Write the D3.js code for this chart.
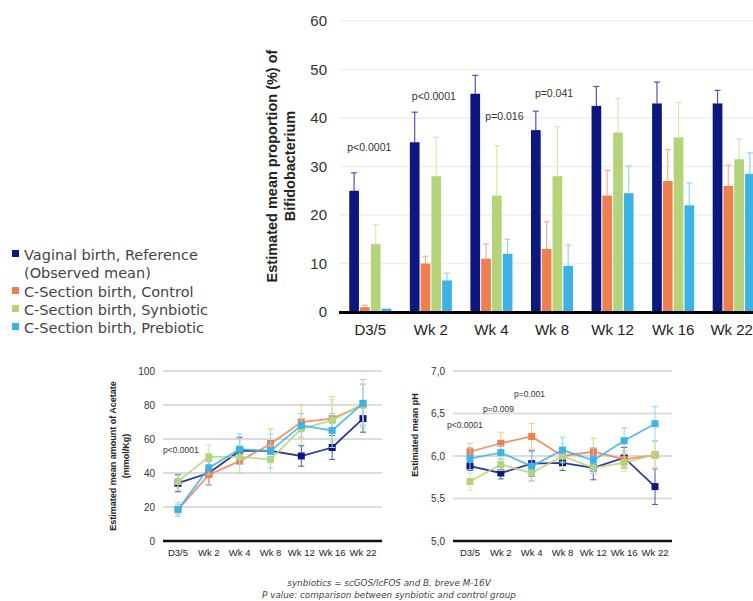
<!DOCTYPE html>
<html>
<head>
<meta charset="utf-8">
<script src="https://cdn.jsdelivr.net/npm/d3@7"></script>
<style>
  body { margin: 0; background: #fff; }
  svg { display: block; }
</style>
</head>
<body>
<div id="chart"></div>
<script>
// categories and series
var timepoints = ["D3/5", "Wk 2", "Wk 4", "Wk 8", "Wk 12", "Wk 16", "Wk 22"];
var groups = ["Vaginal birth, Reference", "C-Section birth, Control", "C-Section birth, Synbiotic", "C-Section birth, Prebiotic"];
var legendLabels = [["Vaginal birth, Reference", "(Observed mean)"], ["C-Section birth, Control"], ["C-Section birth, Synbiotic"], ["C-Section birth, Prebiotic"]];

// Bifidobacterium proportion (%) and upper error
var bifVaginal   = [25, 35, 45, 37.5, 42.5, 43, 43];
var bifControl   = [1, 10, 11, 13, 24, 27, 26];
var bifSynbiotic = [14, 28, 24, 28, 37, 36, 31.5];
var bifPrebiotic = [0.7, 6.5, 12, 9.5, 24.5, 22, 28.5];
var bifErrVaginal   = [3.7, 6.2, 3.8, 3.9, 4, 4.4, 2.7];
var bifErrControl   = [0.4, 1.5, 3, 5.6, 5.2, 6.5, 4.3];
var bifErrSynbiotic = [4, 8, 10.3, 10.2, 7, 7.2, 4.2];
var bifErrPrebiotic = [0, 1.5, 3, 4.3, 5.6, 4.6, 4.3];
var bifTicks = [0, 10, 20, 30, 40, 50, 60];
var bifPLabels = [["D3/5", "p<0.0001"], ["Wk 2", "p<0.0001"], ["Wk 4", "p=0.016"], ["Wk 8", "p=0.041"]];

// Acetate (mmol/Kg)
var aceVaginal   = [34, 40, 53, 53, 50, 55, 72];
var aceControl   = [18.5, 39, 47, 57, 70, 72, 80];
var aceSynbiotic = [35, 49.5, 49.5, 48, 66, 71, 80.5];
var acePrebiotic = [18.5, 43, 54, 53, 68, 65, 81];
var aceErrVaginal   = [5, 7, 8, 6, 6, 7, 8];
var aceErrControl   = [3, 6, 7, 9, 10, 13, 12];
var aceErrSynbiotic = [5, 7, 10, 8, 9, 12, 12];
var aceErrPrebiotic = [4, 4, 9, 10, 7, 10, 14];
var aceTicks = [0, 20, 40, 60, 80, 100];

// pH
var phVaginal   = [5.88, 5.80, 5.91, 5.92, 5.86, 5.98, 5.64];
var phControl   = [6.05, 6.15, 6.23, 6.00, 6.05, 5.96, 6.01];
var phSynbiotic = [5.70, 5.90, 5.80, 6.00, 5.86, 5.92, 6.02];
var phPrebiotic = [5.97, 6.04, 5.88, 6.07, 5.95, 6.18, 6.38];
var phErrVaginal   = [0.05, 0.07, 0.15, 0.09, 0.14, 0.12, 0.21];
var phErrControl   = [0.1, 0.13, 0.15, 0.07, 0.16, 0.1, 0.16];
var phErrSynbiotic = [0.1, 0.07, 0.1, 0.15, 0.07, 0.1, 0.15];
var phErrPrebiotic = [0.13, 0.08, 0.17, 0.15, 0.15, 0.15, 0.2];
var phTicks = [5, 5.5, 6, 6.5, 7];
var phPLabels = ["p<0.0001", "p=0.009", "p=0.001"];

var footnotes = ["synbiotics = scGOS/lcFOS and B. breve M-16V", "P value: comparison between synbiotic and control group"];

var colors = ["#0c1780", "#f07f4f", "#b5d47a", "#3cb3e4"];
var errColors = ["#4d57b3", "#f6b08f", "#d8e8b0", "#93d5f1"];
var lineErrColors = ["#4d57b3", "#f7c27a", "#d3e6a6", "#93d5f1"];

var svg = d3.select("#chart").append("svg")
    .attr("width", 753)
    .attr("height", 601);

var sans = "Liberation Sans, Arial, sans-serif";
var legendFont = "DejaVu Sans, sans-serif";

// ---------- Bar chart ----------
function barChart(){
    var bifData = [bifVaginal, bifControl, bifSynbiotic, bifPrebiotic];
    var bifErr = [bifErrVaginal, bifErrControl, bifErrSynbiotic, bifErrPrebiotic];

    var x0 = d3.scaleBand().domain(timepoints).range([340, 764])
        .paddingInner(0.27).paddingOuter(0.135);
    var x1 = d3.scaleBand().domain(groups).range([0, x0.bandwidth()]).padding(0.1);
    var y = d3.scaleLinear().domain([0, 60]).range([312, 21]);

    var g = svg.append("g");

    // grid
    g.selectAll(".grid").data(bifTicks.filter(function(d){ return d > 0; }))
        .enter().append("line")
        .attr("x1", 339).attr("x2", 753)
        .attr("y1", function(d){ return y(d); })
        .attr("y2", function(d){ return y(d); })
        .attr("stroke", "#efefef").attr("stroke-width", 1.5);

    // y ticks
    g.selectAll(".ytick").data(bifTicks).enter().append("text")
        .attr("x", 327).attr("y", function(d){ return y(d) + 5; })
        .attr("text-anchor", "end")
        .attr("font-family", sans).attr("font-size", "15px").attr("fill", "#333")
        .text(function(d){ return d; });

    // bars + error bars
    groups.forEach(function(s, si){
        var gg = g.append("g");
        timepoints.forEach(function(t, ti){
            var v = bifData[si][ti], e = bifErr[si][ti];
            var cx = x0(t) + x1(s) + x1.bandwidth() / 2;
            if (e > 0) {
                gg.append("line").attr("x1", cx).attr("x2", cx)
                    .attr("y1", y(v)).attr("y2", y(v + e))
                    .attr("stroke", errColors[si]).attr("stroke-width", 1.2);
                gg.append("line").attr("x1", cx - 3).attr("x2", cx + 3)
                    .attr("y1", y(v + e)).attr("y2", y(v + e))
                    .attr("stroke", errColors[si]).attr("stroke-width", 1.2);
            }
            gg.append("rect")
                .attr("x", x0(t) + x1(s))
                .attr("y", y(v))
                .attr("width", x1.bandwidth())
                .attr("height", y(0) - y(v))
                .attr("fill", colors[si]);
        });
    });

    // baseline
    g.append("line").attr("x1", 339).attr("x2", 753)
        .attr("y1", y(0) + 0.5).attr("y2", y(0) + 0.5)
        .attr("stroke", "#000").attr("stroke-width", 3);

    // x labels (last one sits against the right edge, as in the source)
    g.selectAll(".xlab").data(timepoints).enter().append("text")
        .attr("x", function(d, i){ return x0(d) + x0.bandwidth() / 2 - (i === timepoints.length - 1 ? 2 : 0); })
        .attr("y", 335)
        .attr("text-anchor", "middle")
        .attr("font-family", sans).attr("font-size", "15px").attr("fill", "#222")
        .text(function(d){ return d; });

    // p values (offset from group centre, height in data units)
    var pPos = { "D3/5": [-1, 33.2], "Wk 2": [3, 43.8], "Wk 4": [13, 39.6], "Wk 8": [2, 44.3] };
    bifPLabels.forEach(function(p){
        g.append("text")
            .attr("x", x0(p[0]) + x0.bandwidth() / 2 + pPos[p[0]][0])
            .attr("y", y(pPos[p[0]][1]))
            .attr("text-anchor", "middle")
            .attr("font-family", sans).attr("font-size", "10.5px").attr("fill", "#333")
            .text(p[1]);
    });

    // y title
    var yt = g.append("text")
        .attr("transform", "translate(277,166) rotate(-90)")
        .attr("text-anchor", "middle")
        .attr("font-family", sans).attr("font-size", "14.5px").attr("font-weight", "bold").attr("fill", "#222");
    yt.append("tspan").attr("x", 0).attr("dy", 0).text("Estimated mean proportion (%) of");
    yt.append("tspan").attr("x", 0).attr("dy", 17.5).text("Bifidobacterium");
}

// ---------- Legend ----------
function legend(){
    var lg = svg.append("g").attr("transform", "translate(12,0)");
    var rowY = [254, 291, 309, 327];
    legendLabels.forEach(function(lines, i){
        lg.append("rect")
            .attr("x", 0).attr("y", rowY[i] - 4)
            .attr("width", 7).attr("height", 7)
            .attr("fill", colors[i]);
        lines.forEach(function(l, li){
            lg.append("text")
                .attr("x", 12).attr("y", rowY[i] + 5.5 + li * 18)
                .attr("font-family", legendFont).attr("font-size", "14.5px").attr("fill", "#444")
                .text(l);
        });
    });
}

// ---------- Line charts ----------
function lineChart(opts){
    var x = d3.scalePoint().domain(timepoints).range(opts.xRange);
    var y = d3.scaleLinear().domain(opts.domain).range([541, 371]);
    var g = svg.append("g");

    g.selectAll(".grid").data(opts.ticks.slice(1)).enter().append("line")
        .attr("x1", opts.gridX[0]).attr("x2", opts.gridX[1])
        .attr("y1", function(d){ return y(d); })
        .attr("y2", function(d){ return y(d); })
        .attr("stroke", "#dcdcdc").attr("stroke-width", 1.8);

    g.selectAll(".ytick").data(opts.ticks).enter().append("text")
        .attr("x", opts.gridX[0] - 8).attr("y", function(d){ return y(d) + 3.5; })
        .attr("text-anchor", "end")
        .attr("font-family", sans).attr("font-size", "10px").attr("fill", "#333")
        .text(opts.format);

    g.append("line").attr("x1", opts.gridX[0]).attr("x2", opts.gridX[1])
        .attr("y1", y(opts.domain[0])).attr("y2", y(opts.domain[0]))
        .attr("stroke", "#111").attr("stroke-width", 2.5);

    g.selectAll(".xlab").data(timepoints).enter().append("text")
        .attr("x", function(d){ return x(d); })
        .attr("y", 556)
        .attr("text-anchor", "middle")
        .attr("font-family", sans).attr("font-size", "9.5px").attr("fill", "#222")
        .text(function(d){ return d; });

    var line = d3.line()
        .x(function(d, i){ return x(timepoints[i]); })
        .y(function(d){ return y(d); });

    opts.series.forEach(function(vals, si){
        var errs = opts.errs[si];
        var sg = g.append("g");
        vals.forEach(function(v, i){
            var cx = x(timepoints[i]);
            sg.append("line").attr("x1", cx).attr("x2", cx)
                .attr("y1", y(v - errs[i])).attr("y2", y(v + errs[i]))
                .attr("stroke", lineErrColors[si]).attr("stroke-width", 1);
            [v - errs[i], v + errs[i]].forEach(function(e){
                sg.append("line").attr("x1", cx - 3).attr("x2", cx + 3)
                    .attr("y1", y(e)).attr("y2", y(e))
                    .attr("stroke", lineErrColors[si]).attr("stroke-width", 1);
            });
        });
        sg.append("path").datum(vals)
            .attr("d", line)
            .attr("fill", "none")
            .attr("stroke", colors[si])
            .attr("stroke-opacity", 0.85)
            .attr("stroke-width", 1.8);
        sg.selectAll(".pt").data(vals).enter().append("rect")
            .attr("x", function(d, i){ return x(timepoints[i]) - 3.5; })
            .attr("y", function(d){ return y(d) - 3.5; })
            .attr("width", 7).attr("height", 7)
            .attr("fill", colors[si]);
    });

    var yt = g.append("text")
        .attr("transform", "translate(" + opts.titleX + "," + opts.titleY + ") rotate(-90)")
        .attr("text-anchor", "middle")
        .attr("font-family", sans).attr("font-size", "9px").attr("font-weight", "bold").attr("fill", "#222");
    opts.title.forEach(function(t, i){
        yt.append("tspan").attr("x", 0).attr("dy", i === 0 ? 0 : 13).text(t);
    });

    opts.pLabels.forEach(function(p){
        g.append("text")
            .attr("x", p.x).attr("y", y(p.y))
            .attr("font-family", sans).attr("font-size", "8.5px").attr("fill", "#333")
            .text(p.text);
    });
}

barChart();
legend();

lineChart({
    domain: [0, 100], ticks: aceTicks, format: function(d){ return d; },
    xRange: [178, 363], gridX: [163, 382],
    series: [aceVaginal, aceControl, aceSynbiotic, acePrebiotic],
    errs: [aceErrVaginal, aceErrControl, aceErrSynbiotic, aceErrPrebiotic],
    title: ["Estimated mean amount of Acetate", "(mmol/Kg)"], titleX: 116, titleY: 456,
    pLabels: [{ x: 163, y: 52, text: "p<0.0001" }]
});

lineChart({
    domain: [5, 7], ticks: phTicks, format: function(d){ return d3.format(".1f")(d).replace(".", ","); },
    xRange: [470, 655], gridX: [453, 672],
    series: [phVaginal, phControl, phSynbiotic, phPrebiotic],
    errs: [phErrVaginal, phErrControl, phErrSynbiotic, phErrPrebiotic],
    title: ["Estimated mean pH"], titleX: 418, titleY: 435,
    pLabels: [
        { x: 447, y: 6.33, text: phPLabels[0] },
        { x: 483, y: 6.52, text: phPLabels[1] },
        { x: 514, y: 6.69, text: phPLabels[2] }
    ]
});

// footnote
footnotes.forEach(function(f, i){
    svg.append("text")
        .attr("x", 389).attr("y", 586 + i * 11.5)
        .attr("text-anchor", "middle")
        .attr("font-family", "DejaVu Sans, sans-serif").attr("font-style", "italic")
        .attr("font-size", "8.8px").attr("fill", "#444")
        .text(f);
});
</script>
</body>
</html>
